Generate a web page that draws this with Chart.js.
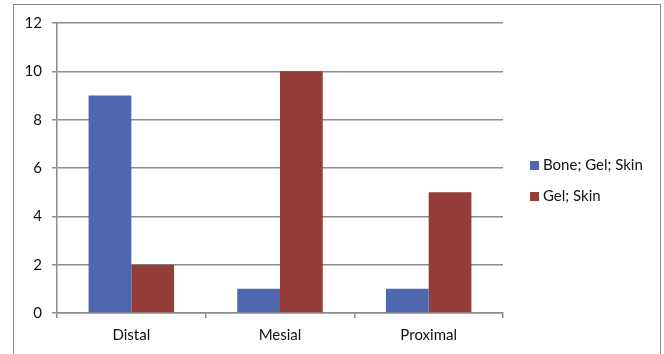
<!DOCTYPE html>
<html>
<head>
<meta charset="utf-8">
<script src="https://cdn.jsdelivr.net/npm/chart.js@4.4.1/dist/chart.umd.min.js"></script>
<style>
  html, body { margin: 0; padding: 0; background: #fff; }
  #wrap { position: relative; width: 664px; height: 354px; overflow: hidden; }
  #frame { position: absolute; left: 13px; top: 4px; width: 648px; height: 400px;
           border: 1px solid #8a8a8a; box-sizing: border-box; }
  canvas { position: absolute; left: 0; top: 0; }
</style>
</head>
<body>
<div id="wrap">
  <div id="frame"></div>
  <canvas id="c" width="664" height="354"></canvas>
</div>
<script>
// Categories along the x axis
const categories = ['Distal', 'Mesial', 'Proximal'];

// Series values
const boneGelSkin = [9, 1, 1];
const gelSkin = [2, 10, 5];

// Series names
const seriesNames = ['Bone; Gel; Skin', 'Gel; Skin'];

// Value axis ticks
const yTicks = [0, 2, 4, 6, 8, 10, 12];

const FONT = "Lato, 'Liberation Sans', sans-serif";
const TEXT = '#111111';
const GRID = '#8c8c8c';

// Legend drawn to the right of the plot area from the dataset list
const sideLegend = {
  id: 'sideLegend',
  afterDraw(chart) {
    const ctx = chart.ctx;
    ctx.save();
    ctx.font = '15px ' + FONT;
    ctx.textBaseline = 'middle';
    ctx.textAlign = 'left';
    chart.data.datasets.forEach((ds, i) => {
      const y = 165 + i * 31;
      ctx.fillStyle = ds.backgroundColor;
      ctx.fillRect(530, y - 4, 9, 9);
      ctx.fillStyle = TEXT;
      ctx.fillText(ds.label, 543, y);
    });
    ctx.restore();
  }
};

new Chart(document.getElementById('c'), {
  type: 'bar',
  data: {
    labels: categories,
    datasets: [
      { label: seriesNames[0], data: boneGelSkin, backgroundColor: '#4f67ae' },
      { label: seriesNames[1], data: gelSkin, backgroundColor: '#953d3b' }
    ]
  },
  options: {
    responsive: false,
    animation: false,
    devicePixelRatio: 1,
    layout: { padding: { left: 0, top: 23, right: 161, bottom: 0 } },
    datasets: { bar: { categoryPercentage: 0.575, barPercentage: 1.0 } },
    plugins: { legend: { display: false }, tooltip: { enabled: false } },
    scales: {
      x: {
        grid: { offset: true, drawOnChartArea: false, drawTicks: true, tickLength: 5,
                color: GRID, lineWidth: 1.5 },
        border: { color: GRID, width: 1.5 },
        ticks: { font: { family: FONT, size: 15 }, color: TEXT, padding: 8 },
        afterFit(scale) { scale.height = 41; }
      },
      y: {
        min: 0, max: 12,
        afterBuildTicks(scale) { scale.ticks = yTicks.map(v => ({ value: v })); },
        grid: { color: GRID, lineWidth: 1.5, tickLength: 5 },
        border: { color: GRID, width: 1.5 },
        ticks: { font: { family: FONT, size: 15 }, color: TEXT, padding: 10 },
        afterFit(scale) { scale.width = 57; }
      }
    }
  },
  plugins: [sideLegend]
});
</script>
</body>
</html>
